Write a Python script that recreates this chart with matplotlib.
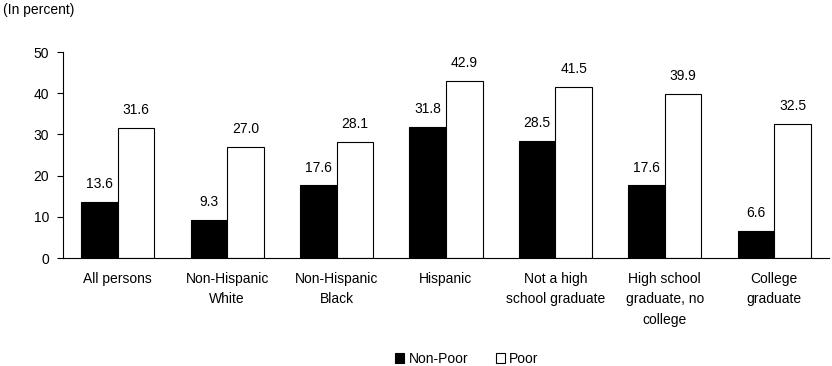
import matplotlib
matplotlib.use("Agg")
import matplotlib.pyplot as plt
import numpy as np

categories = ["All persons", "Non-Hispanic\nWhite", "Non-Hispanic\nBlack", "Hispanic",
              "Not a high\nschool graduate", "High school\ngraduate, no\ncollege", "College\ngraduate"]
non_poor = [13.6, 9.3, 17.6, 31.8, 28.5, 17.6, 6.6]
poor = [31.6, 27.0, 28.1, 42.9, 41.5, 39.9, 32.5]
yticks = [0, 10, 20, 30, 40, 50]

plt.rcParams['font.family'] = ['Liberation Sans', 'DejaVu Sans']
plt.rcParams['font.size'] = 10

fig = plt.figure(figsize=(8.32, 3.66), dpi=100)
ax = fig.add_axes([63/832, 1-258/366, (829-63)/832, (258-52)/366])

x = np.arange(len(categories))
w = 0.334
b1 = ax.bar(x - w/2, non_poor, w, color='black', edgecolor='black', linewidth=0.8, label='Non-Poor')
b2 = ax.bar(x + w/2, poor, w, color='white', edgecolor='black', linewidth=0.8, label='Poor')
for xi, v in zip(x - w/2, non_poor):
    ax.annotate(f"{v:.1f}", (xi, v), xytext=(0, 10), textcoords='offset points',
                ha='center', va='baseline', fontsize=10)
for xi, v in zip(x + w/2, poor):
    ax.annotate(f"{v:.1f}", (xi, v), xytext=(0, 10), textcoords='offset points',
                ha='center', va='baseline', fontsize=10)

ax.set_xlim(-0.5, len(categories) - 0.5)
ax.set_ylim(0, 50)
ax.set_yticks(yticks)
ax.set_xticks(x)
ax.set_xticklabels(categories, linespacing=1.6)
ax.tick_params(axis='x', length=0, pad=10)
ax.tick_params(axis='y', length=4, pad=6, width=0.8)
for s in ['top', 'right']:
    ax.spines[s].set_visible(False)
for s in ['left', 'bottom']:
    ax.spines[s].set_linewidth(0.8)

fig.text(3/832, 1-10/366, "(In percent)", ha='left', va='center', fontsize=10)
fig.legend(handles=[b1, b2], labels=['Non-Poor', 'Poor'], loc='center', bbox_to_anchor=(467/832, 1-359/366),
           ncol=2, frameon=False, handlelength=0.65, handleheight=0.65, columnspacing=2.0, handletextpad=0.3)

fig.savefig("out.png", dpi=100)
